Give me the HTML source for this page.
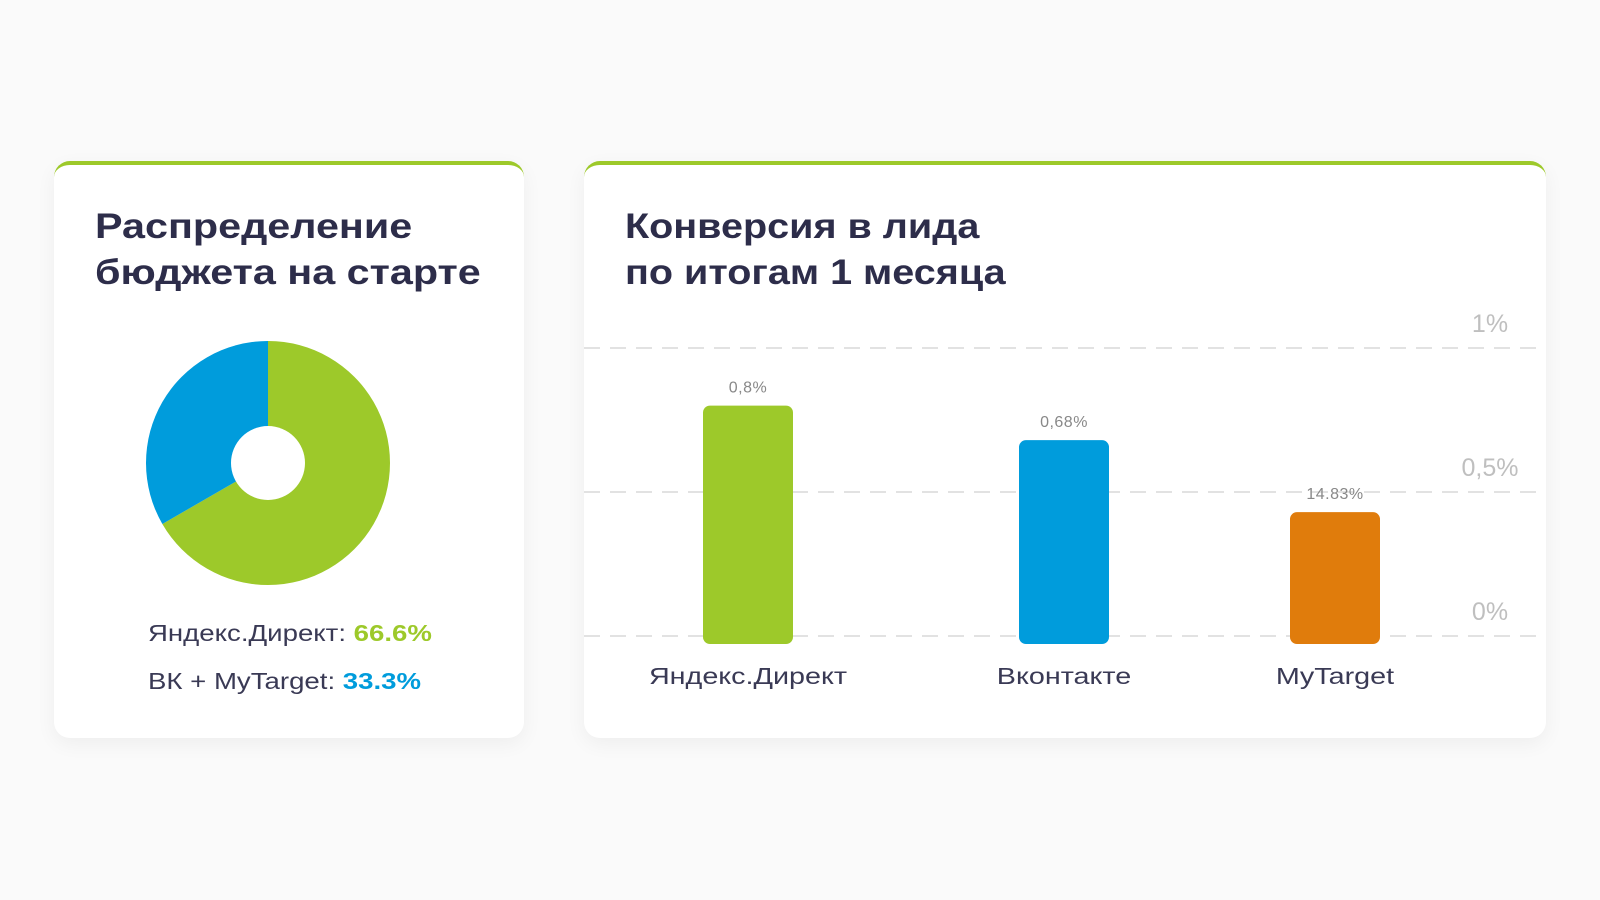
<!DOCTYPE html>
<html><head><meta charset="utf-8">
<style>
body{margin:0;width:1600px;height:900px;background:#fafafa;font-family:"Liberation Sans",sans-serif;position:relative;overflow:hidden}
.card{position:absolute;background:#fff;border-radius:16px;border-top:4px solid #9dc92a;box-shadow:0 6px 20px rgba(0,0,0,0.05)}
.title{position:absolute;font-weight:bold;font-size:35px;line-height:46px;color:#2d2d4a;transform-origin:0 0;white-space:nowrap}
.leg{position:absolute;font-size:23px;color:#3a3a55;transform:scaleX(1.2);transform-origin:0 0;white-space:nowrap}
</style></head><body>
<div class="card" style="left:54px;top:161px;width:470px;height:573px"></div>
<div class="card" style="left:584px;top:161px;width:962px;height:573px"></div>
<div class="title" style="left:95px;top:204px;transform:scaleX(1.18)">Распределение<br>бюджета на старте</div>
<div class="title" style="left:625px;top:204px;transform:scaleX(1.13)">Конверсия в лида<br>по итогам 1 месяца</div>
<div class="leg" style="left:148px;top:620px">Яндекс.Директ: <b style="color:#9dc92a">66.6%</b></div>
<div class="leg" style="left:148px;top:668px">ВК + MyTarget: <b style="color:#009cdc">33.3%</b></div>
<svg id="svg" width="1600" height="900" style="position:absolute;left:0;top:0"></svg>
<script>
const pieLabels=["Яндекс.Директ","ВК + MyTarget"];
const pieValues=[66.6,33.3];
const pieColors=["#9dc92a","#009cdc"];
const categories=["Яндекс.Директ","Вконтакте","MyTarget"];
const barValues=[0.8,0.68,0.43];
const barLabels=["0,8%","0,68%","14.83%"];
const barColors=["#9dc92a","#009cdc","#e07c0c"];
const ticks=[0,0.5,1];
const tickLabels=["0%","0,5%","1%"];

const NS="http://www.w3.org/2000/svg";
const svg=document.getElementById('svg');
function mk(t,a){const e=document.createElementNS(NS,t);for(const k in a)e.setAttribute(k,a[k]);svg.appendChild(e);return e;}
const cx=268,cy=463,R=122,r0=37;
const tot=pieValues.reduce((a,b)=>a+b,0);
let ang=0;
pieValues.forEach((v,i)=>{
  const a0=ang,a1=ang+v/tot*2*Math.PI;ang=a1;
  const p=a=>[cx+R*Math.sin(a),cy-R*Math.cos(a)];
  const [x0,y0]=p(a0),[x1,y1]=p(a1);
  const e=mk('path',{d:`M${cx},${cy}L${x0},${y0}A${R},${R} 0 ${a1-a0>Math.PI?1:0} 1 ${x1},${y1}Z`,fill:pieColors[i]});
  
  
});
const hole=mk('circle',{cx:cx,cy:cy,r:r0,fill:'#fff'});


const y0=636,yScale=288;
const Y=v=>y0-v*yScale;
ticks.forEach((t,i)=>{
  const l=mk('line',{x1:584,x2:1546,y1:Y(t),y2:Y(t),stroke:'#e2e2e2','stroke-width':2,'stroke-dasharray':'16 10'});
  
  
  const tx=mk('text',{x:1490,y:Y(t)-16,'text-anchor':'middle','font-size':25,fill:'#bfbfbf','font-family':'Liberation Sans'});
  tx.textContent=tickLabels[i];
  
  
});
const centers=[748,1064,1335],bw=90;
categories.forEach((c,i)=>{
  const x=centers[i];
  const b=mk('rect',{x:x-bw/2,y:Y(barValues[i]),width:bw,height:y0+8-Y(barValues[i]),rx:7,fill:barColors[i]});
  
  
  const vl=mk('text',{x:x,y:Y(barValues[i])-13,'text-anchor':'middle','font-size':16,fill:'#888','font-family':'Liberation Sans','letter-spacing':0.5});
  vl.textContent=barLabels[i];
  
  
  const cl=mk('text',{x:0,y:0,transform:`translate(${x},684) scale(1.25,1)`,'text-anchor':'middle','font-size':23,fill:'#3a3a55','font-family':'Liberation Sans'});
  cl.textContent=c;
  
  
});
</script>
</body></html>
